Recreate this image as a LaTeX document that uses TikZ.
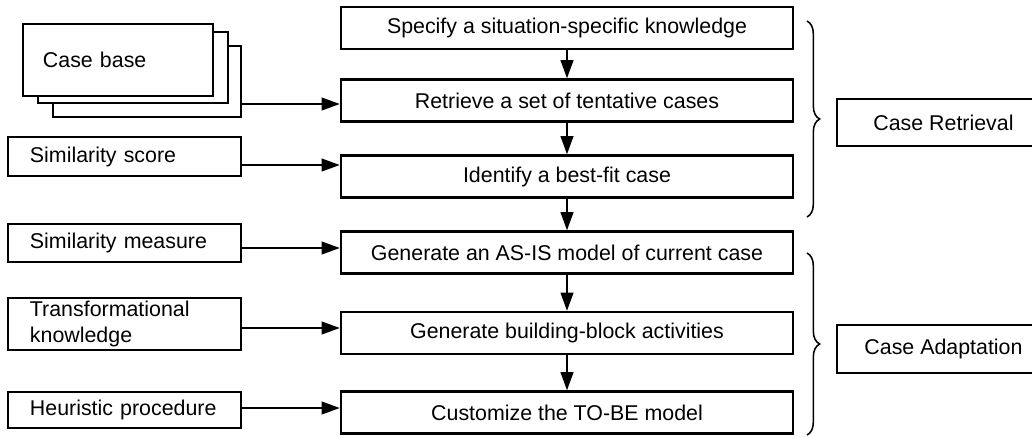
\documentclass[tikz,border=0pt]{standalone}
\usepackage{fontspec}
\setmainfont{Liberation Sans}
\usetikzlibrary{arrows.meta, decorations.pathreplacing}

\tikzset{
  stepbox/.style={draw, fill=white, minimum width=11.3cm, minimum height=1.05cm, inner sep=0pt},
  inbox/.style={draw, fill=white, text width=4.725cm, inner xsep=0.55cm, inner ysep=0pt, align=left},
  phasebox/.style={draw, minimum width=5.325cm, inner sep=0pt},
  phasebrace/.style={decorate, decoration={brace, amplitude=9pt}, line width=1.1pt},
}

\begin{document}
\begin{tikzpicture}[x=0.025cm, y=-0.025cm, line width=1.6pt, >={Triangle[length=13pt, width=9pt]}, font=\fontsize{15.2}{18}\selectfont]

\useasboundingbox (0,0) rectangle (1032,437);

% the six steps, top to bottom
\node[stepbox] (spec)   at (567,28)    {Specify a situation-specific knowledge};
\node[stepbox] (retr)   at (567,100.5) {Retrieve a set of tentative cases};
\node[stepbox] (ident)  at (567,176.5) {Identify a best-fit case};
\node[stepbox] (asis)   at (567,252.5) {Generate an AS-IS model of current case};
\node[stepbox] (blocks) at (567,333)   {Generate building-block activities};
\node[stepbox] (tobe)   at (567,412.5) {Customize the TO-BE model};

\draw[->] (spec) -- (retr);
\draw[->] (retr) -- (ident);
\draw[->] (ident) -- (asis);
\draw[->] (asis) -- (blocks);
\draw[->] (blocks) -- (tobe);

% case base as a stack of sheets
\node[draw, fill=white, minimum width=4.7cm, minimum height=1.775cm] (cb3) at (147,81.5) {};
\node[draw, fill=white, minimum width=4.75cm, minimum height=1.775cm] (cb2) at (133,67.5) {};
\node[inbox, text width=3.75cm, inner xsep=0.5cm, minimum height=1.8cm] (cb1) at (118,60) {Case base};

% inputs on the left
\node[inbox, minimum height=0.975cm] (score)   at (124.5,156.5) {Similarity score};
\node[inbox, minimum height=0.95cm]  (measure) at (124.5,243)   {Similarity measure};
\node[inbox, minimum height=1.3cm]   (transf)  at (124.5,324)   {Transformational\\knowledge};
\node[inbox, minimum height=0.9cm]   (heur)    at (124.5,410)   {Heuristic procedure};

\draw[->] (cb3.east |- 0,104)     -- (retr.west |- 0,104);
\draw[->] (score.east |- 0,165)   -- (ident.west |- 0,165);
\draw[->] (measure.east |- 0,248) -- (asis.west |- 0,248);
\draw[->] (transf.east |- 0,328)  -- (blocks.west |- 0,328);
\draw[->] (heur.east |- 0,408)    -- (tobe.west |- 0,408);

% the two phases, braced on the right
\coordinate (rtop) at (807,21);
\coordinate (rbot) at (807,217);
\coordinate (atop) at (807,253);
\coordinate (abot) at (807,435);
\draw[phasebrace] (rtop) -- (rbot);
\draw[phasebrace] (atop) -- (abot);

\node[phasebox, minimum height=1.175cm] (retrieval)  at (943.5,122.5) {Case Retrieval};
\node[phasebox, minimum height=1.2cm]   (adaptation) at (943.5,349)   {Case Adaptation};

\end{tikzpicture}
\end{document}
